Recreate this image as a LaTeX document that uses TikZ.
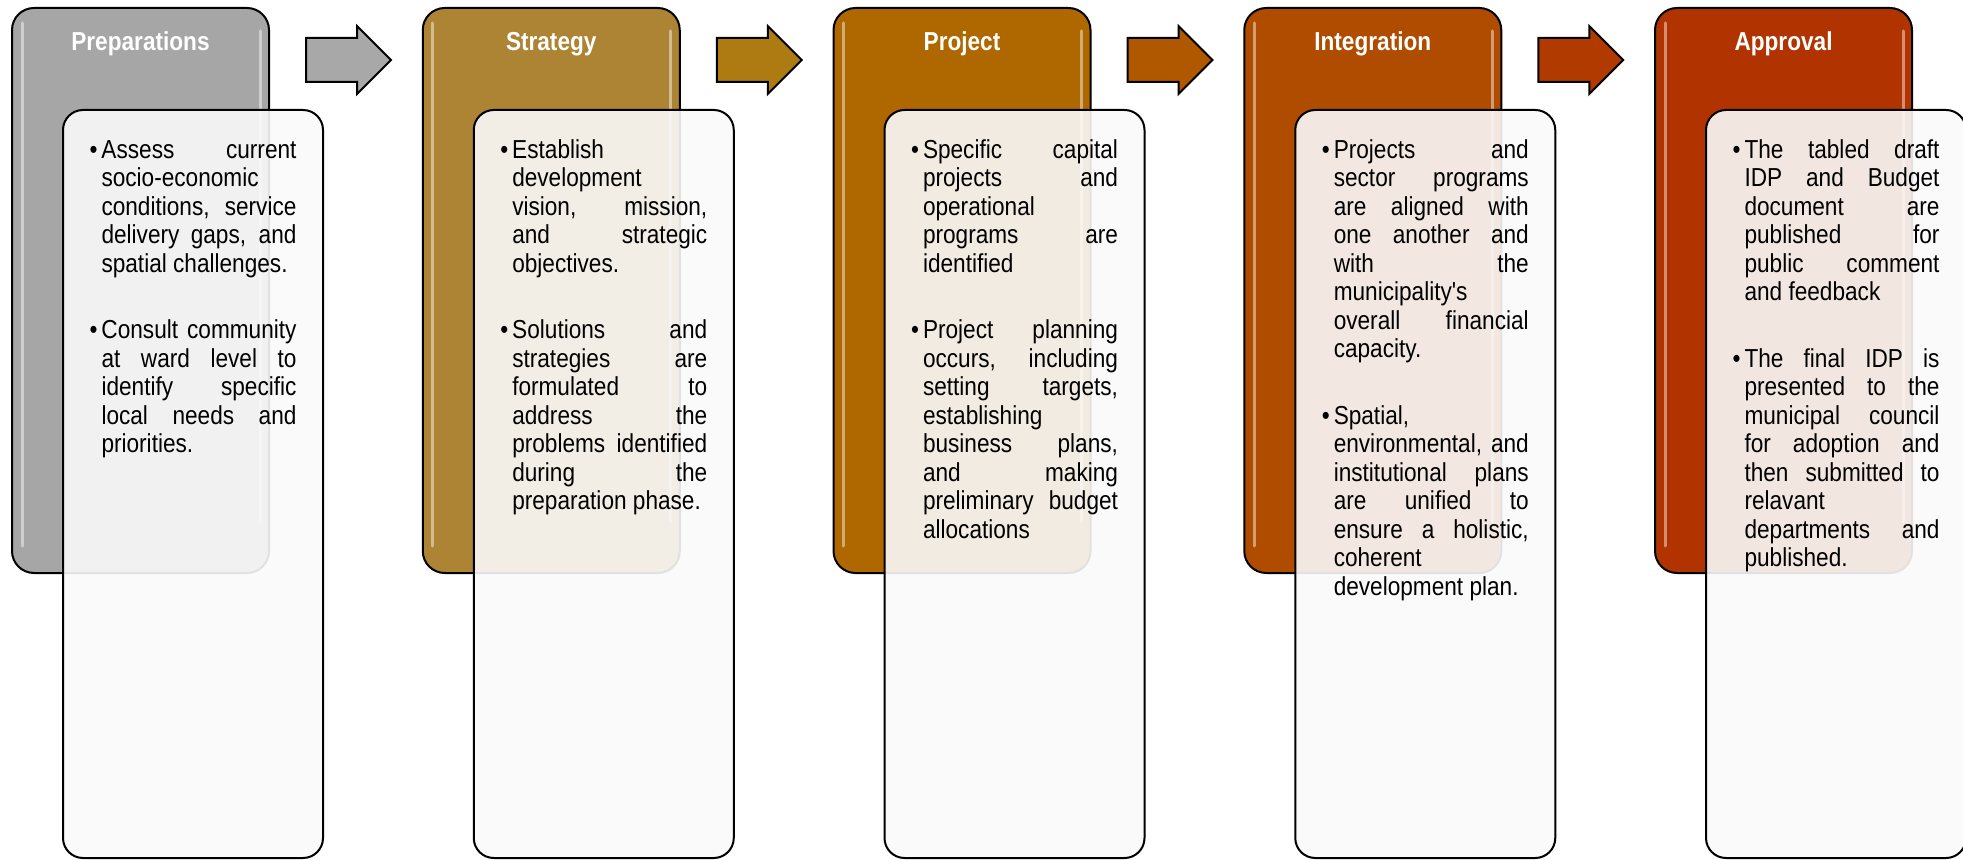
\documentclass[tikz,border=0pt]{standalone}
\usepackage{fontspec}
\setmainfont{Liberation Sans}[Ligatures=TeXOff,FakeStretch=0.87]
\usetikzlibrary{shapes.arrows, positioning, calc}
\definecolor{idpgray}{RGB}{166,166,166}
\definecolor{idpgold}{RGB}{172,132,51}
\definecolor{idpamber}{RGB}{175,104,0}
\definecolor{idprust}{RGB}{176,76,0}
\definecolor{idpred}{RGB}{177,52,0}
\definecolor{arrgray}{RGB}{168,168,168}
\definecolor{arrgold}{RGB}{174,122,18}
\definecolor{arramber}{RGB}{176,88,0}
\definecolor{arrrust}{RGB}{176,58,0}
\hyphenpenalty=10000
\exhyphenpenalty=10000
\tolerance=10000
\hbadness=10000
\tikzset{
  stagehead/.style={draw=black, line width=1pt, rounded corners=11pt,
    minimum width=128.5pt, minimum height=282.5pt, inner sep=0pt},
  stagebox/.style={draw=black, line width=1pt, rounded corners=10pt,
    fill=white!98!black, fill opacity=0.9,
    minimum width=130pt, minimum height=374pt, inner sep=0pt},
  stagetitle/.style={anchor=base, text=white, inner sep=0pt,
    font=\bfseries\fontsize{13pt}{15pt}\selectfont},
  stagetext/.style={anchor=north, text width=103.5pt, align=justify, inner sep=0pt,
    font=\fontsize{13pt}{14.25pt}\selectfont},
  stagearrow/.style={single arrow, draw=black, line width=1pt, anchor=tail,
    single arrow head extend=6pt, inner xsep=0pt, inner ysep=10.5pt, minimum height=42.5pt},
  gloss/.style={white, opacity=0.45, line width=1.5pt, line cap=round},
}
\newcommand{\stagepoint}[1]{\hangindent=6pt\hangafter=1\noindent\strut\makebox[6pt][l]{\textbullet}#1\par}
\newcommand{\pointgap}{\vskip 19pt}

\begin{document}
\begin{tikzpicture}[x=0.5pt, y=-0.5pt]
\useasboundingbox (0,0) rectangle (1963,860);

% Preparations
\node[stagehead, fill=idpgray] (h1) at (140.5,290.5) {};
\draw[gloss] ([xshift=5.5pt,yshift=-8pt]h1.north west) -- ([xshift=5.5pt,yshift=14pt]h1.south west);
\draw[gloss] ([xshift=-5pt,yshift=-12pt]h1.north east) -- ([xshift=-5pt,yshift=26pt]h1.south east);
\node[stagetitle] (h1t) at ([yshift=-22pt]h1.north) {Preparations};
\node[stagebox] (t1) at (193,484) {};
\node[stagetext, below=14.5pt of t1.north] (t1txt) {%
  \stagepoint{Assess current\linebreak socio-economic\linebreak conditions, service\linebreak delivery gaps, and\linebreak spatial challenges.}
  \pointgap
  \stagepoint{Consult community\linebreak at ward level to\linebreak identify specific\linebreak local needs and\linebreak priorities.}};

% arrow
\node[stagearrow, fill=arrgray] (a1) at (305,60) {};

% Strategy
\node[stagehead, fill=idpgold] (h2) at (551.25,290.5) {};
\draw[gloss] ([xshift=5.5pt,yshift=-8pt]h2.north west) -- ([xshift=5.5pt,yshift=14pt]h2.south west);
\draw[gloss] ([xshift=-5pt,yshift=-12pt]h2.north east) -- ([xshift=-5pt,yshift=26pt]h2.south east);
\node[stagetitle] (h2t) at ([yshift=-22pt]h2.north) {Strategy};
\node[stagebox] (t2) at (603.75,484) {};
\node[stagetext, below=14.5pt of t2.north] (t2txt) {%
  \stagepoint{Establish\linebreak development\linebreak vision, mission,\linebreak and strategic\linebreak objectives.}
  \pointgap
  \stagepoint{Solutions and\linebreak strategies are\linebreak formulated to\linebreak address the\linebreak problems identified\linebreak during the\linebreak preparation phase.}};

% arrow
\node[stagearrow, fill=arrgold] (a2) at (715.75,60) {};

% Project
\node[stagehead, fill=idpamber] (h3) at (962,290.5) {};
\draw[gloss] ([xshift=5.5pt,yshift=-8pt]h3.north west) -- ([xshift=5.5pt,yshift=14pt]h3.south west);
\draw[gloss] ([xshift=-5pt,yshift=-12pt]h3.north east) -- ([xshift=-5pt,yshift=26pt]h3.south east);
\node[stagetitle] (h3t) at ([yshift=-22pt]h3.north) {Project};
\node[stagebox] (t3) at (1014.5,484) {};
\node[stagetext, below=14.5pt of t3.north] (t3txt) {%
  \stagepoint{Specific capital\linebreak projects and\linebreak operational\linebreak programs are\linebreak identified}
  \pointgap
  \stagepoint{Project planning\linebreak occurs, including\linebreak setting targets,\linebreak establishing\linebreak business plans,\linebreak and making\linebreak preliminary budget\linebreak allocations}};

% arrow
\node[stagearrow, fill=arramber] (a3) at (1126.5,60) {};

% Integration
\node[stagehead, fill=idprust] (h4) at (1372.75,290.5) {};
\draw[gloss] ([xshift=5.5pt,yshift=-8pt]h4.north west) -- ([xshift=5.5pt,yshift=14pt]h4.south west);
\draw[gloss] ([xshift=-5pt,yshift=-12pt]h4.north east) -- ([xshift=-5pt,yshift=26pt]h4.south east);
\node[stagetitle] (h4t) at ([yshift=-22pt]h4.north) {Integration};
\node[stagebox] (t4) at (1425.25,484) {};
\node[stagetext, below=14.5pt of t4.north] (t4txt) {%
  \stagepoint{Projects and\linebreak sector programs\linebreak are aligned with\linebreak one another and\linebreak with the\linebreak municipality's\linebreak overall financial\linebreak capacity.}
  \pointgap
  \stagepoint{Spatial,\linebreak environmental, and\linebreak institutional plans\linebreak are unified to\linebreak ensure a holistic,\linebreak coherent\linebreak development plan.}};

% arrow
\node[stagearrow, fill=arrrust] (a4) at (1537.25,60) {};

% Approval
\node[stagehead, fill=idpred] (h5) at (1783.5,290.5) {};
\draw[gloss] ([xshift=5.5pt,yshift=-8pt]h5.north west) -- ([xshift=5.5pt,yshift=14pt]h5.south west);
\draw[gloss] ([xshift=-5pt,yshift=-12pt]h5.north east) -- ([xshift=-5pt,yshift=26pt]h5.south east);
\node[stagetitle] (h5t) at ([yshift=-22pt]h5.north) {Approval};
\node[stagebox] (t5) at (1836,484) {};
\node[stagetext, below=14.5pt of t5.north] (t5txt) {%
  \stagepoint{The tabled draft\linebreak IDP and Budget\linebreak document are\linebreak published for\linebreak public comment\linebreak and feedback}
  \pointgap
  \stagepoint{The final IDP is\linebreak presented to the\linebreak municipal council\linebreak for adoption and\linebreak then submitted to\linebreak relavant\linebreak departments and\linebreak published.}};
\end{tikzpicture}
\end{document}
